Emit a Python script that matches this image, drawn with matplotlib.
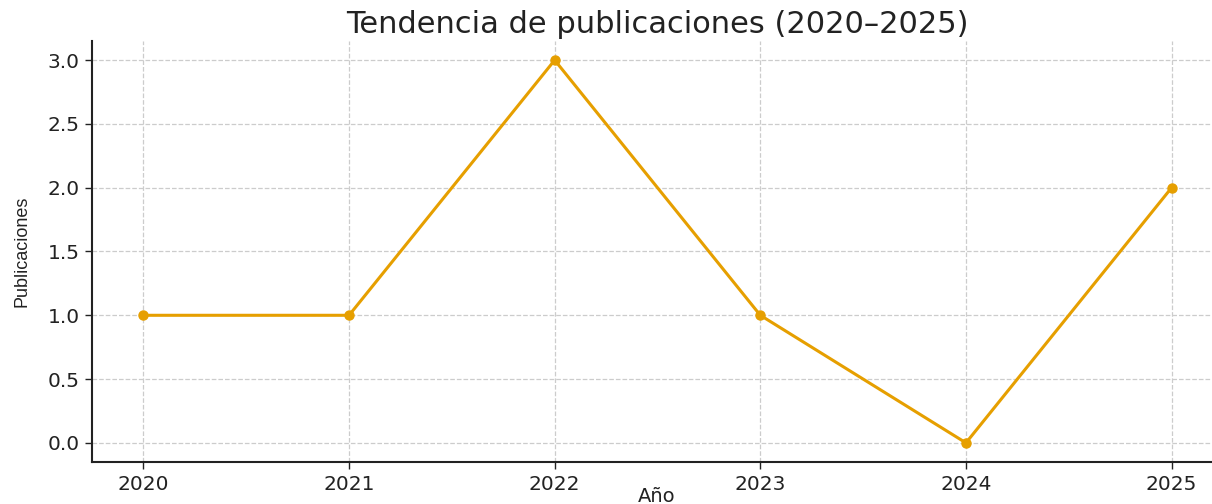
import matplotlib
matplotlib.use("Agg")
import matplotlib.pyplot as plt

years = [2020, 2021, 2022, 2023, 2024, 2025]
publicaciones = [1, 1, 3, 1, 0, 2]
yticks = [0.0, 0.5, 1.0, 1.5, 2.0, 2.5, 3.0]

plt.rcParams['font.family'] = ['DejaVu Sans']
plt.rcParams['font.sans-serif'] = ['DejaVu Sans']

fig = plt.figure(figsize=(12.12, 5.04), dpi=100)
ax = fig.add_axes([92/1212, 1 - 462/504, (1223 - 92)/1212, (462 - 41)/504])

ax.plot(years, publicaciones, color='#E69F00', linewidth=2.2, marker='o', markersize=6.5)
ax.set_xlim(2019.75, 2025.25)
ax.set_ylim(-0.15, 3.15)
ax.set_xticks(years)
ax.set_xticklabels([str(y) for y in years], family='DejaVu Sans')
ax.set_yticks(yticks)
ax.set_yticklabels([f"{v:.1f}" for v in yticks], family='DejaVu Sans')
ax.tick_params(labelsize=14.5, colors='#222222', length=5, width=1, pad=4)
ax.grid(True, linestyle='--', color='#cccccc', linewidth=0.9)
ax.set_axisbelow(True)
for s in ['top', 'right']:
    ax.spines[s].set_visible(False)
for s in ['left', 'bottom']:
    ax.spines[s].set_linewidth(1.5)
    ax.spines[s].set_color('#222222')

ax.set_title("Tendencia de publicaciones (2020–2025)", fontsize=22, color='#222222', pad=6,
             x=(657-92)/(1223-92), family='DejaVu Sans')
ax.set_xlabel("Año", fontsize=14, color='#222222', family='DejaVu Sans', va='baseline')
ax.xaxis.set_label_coords((657-92)/(1223-92), (462-502)/(462-41))
ax.set_ylabel("Publicaciones", fontsize=13, color='#222222',
              family=['Liberation Sans Narrow', 'Liberation Sans', 'DejaVu Sans'], labelpad=12)

fig.savefig("out.png", dpi=100)
